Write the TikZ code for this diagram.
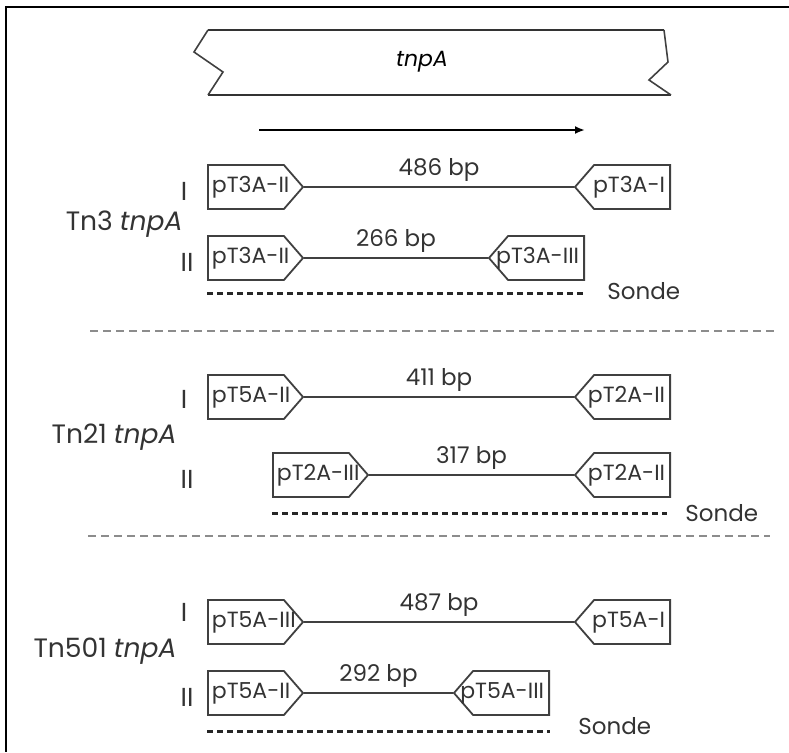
\documentclass[tikz,border=0pt]{standalone}
\usepackage{fontspec}
\setmainfont{Poppins}
\usepackage{tikz}
\usetikzlibrary{shapes.symbols,arrows.meta,positioning}

\begin{document}
\begin{tikzpicture}[x=0.5pt, y=-0.5pt,
    primer/.style={signal, draw=black!75, line width=0.9pt, text=black!80, font=\fontsize{11}{12}\selectfont, minimum height=22pt, inner ysep=1pt, signal pointer angle=98},
    fwd/.style={primer, signal to=east, anchor=west, inner xsep=2pt,
        execute at begin node={\hbox to 34pt\bgroup}, execute at end node={\hss\egroup}},
    rev/.style={primer, signal to=west, anchor=east, inner xsep=2.5pt,
        execute at begin node={\hbox to 33pt\bgroup\hss}, execute at end node={\egroup}},
    amplicon/.style={line width=0.9pt, draw=black!75},
    size/.style={midway, above=0.5pt, inner sep=2pt, font=\fontsize{11.5}{12}\selectfont, text=black!80},
    probe/.style={line width=1.5pt, draw=black!85, dash pattern=on 3pt off 2pt},
    sonde/.style={font=\fontsize{11.5}{12}\selectfont, text=black!80, inner sep=0pt},
    split/.style={line width=0.6pt, draw=black!45, dash pattern=on 4pt off 2.5pt},
    element/.style={font=\fontsize{13.3}{14}\selectfont, text=black!80, anchor=east, inner sep=0pt},
    row/.style={font=\fontsize{13}{14}\selectfont, text=black!80, inner sep=0pt}
]
    \useasboundingbox (0,0) rectangle (789,752);
    \draw[line width=1.2pt] (789,7) -| (6,752);

    % tnpA gene and its direction
    \draw[line width=1.2pt, black!80] (208,30) -- (664,30);
    \draw[line width=1pt, black!80] (208,95) -- (671,95);
    \draw[line width=0.8pt, black!75] (208,30) -- (194,52) -- (223,72) -- (208,95);
    \draw[line width=0.8pt, black!75] (664,30) -- (668,62) -- (649,80) -- (671,95);
    \node[font=\fontsize{11}{12}\selectfont\itshape] (gene) at (422,62) {tnpA};
    \coordinate (dirS) at (259,130);
    \coordinate (dirE) at (585,130);
    \draw[-{Latex[length=5pt,width=4pt]}, line width=1pt] (dirS) -- (dirE);

    % Tn3
    \node[element] (lab3) at (183,224) {Tn3 \textit{tnpA}};
    \node[row] (r3a) at (184,191) {I};
    \node[row] (r3b) at (187,262) {II};
    \node[fwd] (t3f1) at (207,187) {pT3A-II};
    \node[rev] (t3r1) at (671,187) {pT3A-I};
    \node[fwd] (t3f2) at (207,258) {pT3A-II};
    \node[rev] (t3r2) at (585,258) {pT3A-III};
    \draw[amplicon] (t3f1) -- node[size] {486 bp} (t3r1);
    \draw[amplicon] (t3f2) -- node[size] {266 bp} (t3r2);
    \coordinate (s3a) at (207,293);
    \coordinate (s3b) at (585,293);
    \draw[probe] (s3a) -- (s3b);
    \node[sonde, right=11pt of s3b, yshift=1pt] (so3) {Sonde};

    \draw[split] (90,331) -- (777,331);

    % Tn21
    \node[element] (lab21) at (177,437) {Tn21 \textit{tnpA}};
    \node[row] (r21a) at (184,399) {I};
    \node[row] (r21b) at (187,479) {II};
    \node[fwd] (t21f1) at (207,397) {pT5A-II};
    \node[rev] (t21r1) at (671,397) {pT2A-II};
    \node[fwd] (t21f2) at (272,475) {pT2A-III};
    \node[rev] (t21r2) at (671,475) {pT2A-II};
    \draw[amplicon] (t21f1) -- node[size] {411 bp} (t21r1);
    \draw[amplicon] (t21f2) -- node[size] {317 bp} (t21r2);
    \coordinate (s21a) at (272,513);
    \coordinate (s21b) at (667,513);
    \draw[probe] (s21a) -- (s21b);
    \node[sonde, right=9pt of s21b] (so21) {Sonde};

    \draw[split] (88,536) -- (770,536);

    % Tn501
    \node[element] (lab501) at (177,651) {Tn501 \textit{tnpA}};
    \node[row] (r501a) at (184,612) {I};
    \node[row] (r501b) at (187,697) {II};
    \node[fwd] (t501f1) at (207,622) {pT5A-III};
    \node[rev] (t501r1) at (671,622) {pT5A-I};
    \node[fwd] (t501f2) at (207,693) {pT5A-II};
    \node[rev] (t501r2) at (550,693) {pT5A-III};
    \draw[amplicon] (t501f1) -- node[size] {487 bp} (t501r1);
    \draw[amplicon] (t501f2) -- node[size] {292 bp} (t501r2);
    \coordinate (s501a) at (207,731);
    \coordinate (s501b) at (550,731);
    \draw[probe] (s501a) -- (s501b);
    \node[sonde, right=14pt of s501b, yshift=2.5pt] (so501) {Sonde};
\end{tikzpicture}
\end{document}
